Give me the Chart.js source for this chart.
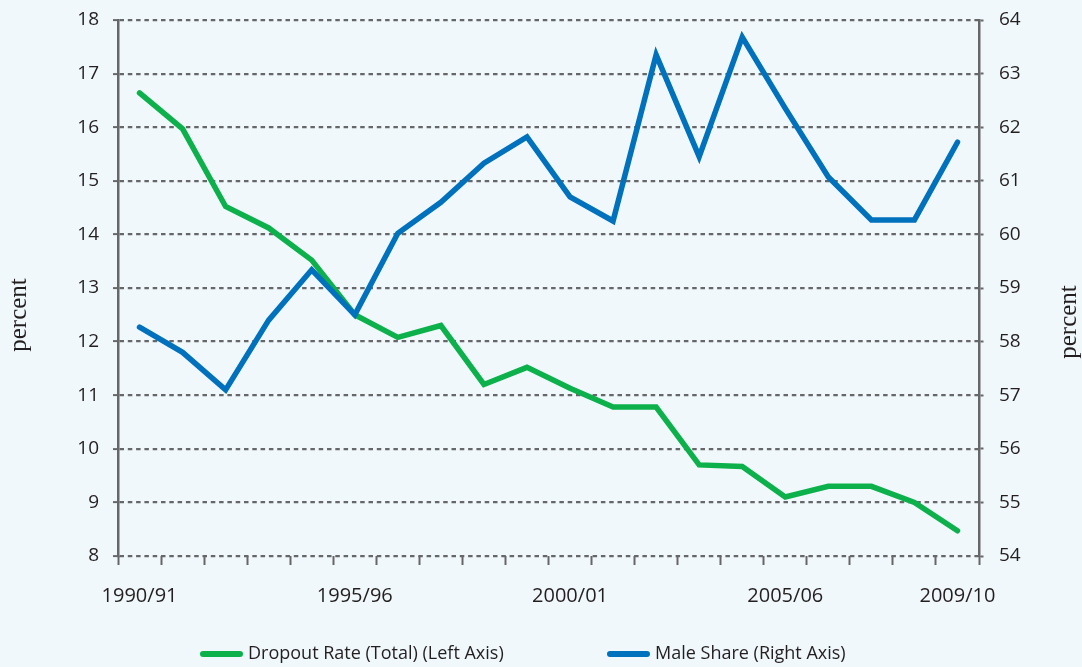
<!DOCTYPE html>
<html>
<head>
<meta charset="utf-8">
<script src="https://cdn.jsdelivr.net/npm/chart.js@4"></script>
<style>
  html, body { margin: 0; padding: 0; background: #f0f8fc; }
  #wrap { position: relative; width: 1082px; height: 667px; }
</style>
</head>
<body>
<div id="wrap"><canvas id="chart"></canvas></div>
<script>
// school years on the x axis
var years = ["1990/91", "1991/92", "1992/93", "1993/94", "1994/95", "1995/96", "1996/97",
    "1997/98", "1998/99", "1999/00", "2000/01", "2001/02", "2002/03", "2003/04",
    "2004/05", "2005/06", "2006/07", "2007/08", "2008/09", "2009/10"];
var shownYears = ["1990/91", "1995/96", "2000/01", "2005/06", "2009/10"];

// dropout rate, left axis
var dropoutRate = [16.64, 15.97, 14.52, 14.12, 13.52, 12.5, 12.08, 12.3, 11.2, 11.52,
    11.13, 10.78, 10.78, 9.7, 9.67, 9.1, 9.3, 9.3, 9.0, 8.47];
// male share, right axis
var maleShare = [58.27, 57.8, 57.1, 58.4, 59.34, 58.5, 60.02, 60.6, 61.33, 61.82,
    60.7, 60.25, 63.35, 61.45, 63.68, 62.35, 61.07, 60.27, 60.27, 61.72];

var leftTicks = [8, 9, 10, 11, 12, 13, 14, 15, 16, 17, 18];
var rightTicks = [54, 55, 56, 57, 58, 59, 60, 61, 62, 63, 64];
var axisTitle = "percent";

var GREEN = "#0cb14b";
var BLUE = "#0071bc";
var GREY = "#666769";
var TEXT = "#231f20";
var FONT = "'Open Sans', sans-serif";

// legend under the chart + the two "percent" axis titles
var extras = {
    id: "extras",
    afterDraw: function (chart) {
        var ctx = chart.ctx;
        var xs = [200, 607];
        ctx.save();
        ctx.font = "18px " + FONT;
        ctx.textBaseline = "middle";
        chart.data.datasets.forEach(function (ds, i) {
            var x = xs[i], y = 654;
            ctx.strokeStyle = ds.borderColor;
            ctx.lineWidth = 6;
            ctx.lineCap = "round";
            ctx.beginPath();
            ctx.moveTo(x + 3, y);
            ctx.lineTo(x + 40, y);
            ctx.stroke();
            ctx.fillStyle = TEXT;
            ctx.fillText(ds.label, x + 48, y);
        });

        ctx.font = "25px 'Liberation Serif', serif";
        ctx.textAlign = "center";
        [[19, 315], [1069, 322]].forEach(function (p) {
            ctx.save();
            ctx.translate(p[0], p[1]);
            ctx.rotate(-Math.PI / 2);
            ctx.fillText(axisTitle, 0, 0);
            ctx.restore();
        });
        ctx.restore();
    }
};

function fixWidth(w) {
    return function (s) {
        s.width = w;
        s.paddingTop = 0;
        s.paddingBottom = 0;
    };
}

new Chart(document.getElementById("chart"), {
    type: "line",
    data: {
        labels: years,
        datasets: [
            {
                label: "Dropout Rate (Total) (Left Axis)",
                data: dropoutRate,
                yAxisID: "yLeft",
                borderColor: GREEN,
                backgroundColor: GREEN,
                borderWidth: 5.5,
                borderJoinStyle: "miter",
                borderCapStyle: "round",
                pointRadius: 0,
                tension: 0,
                order: 1
            },
            {
                label: "Male Share (Right Axis)",
                data: maleShare,
                yAxisID: "yRight",
                borderColor: BLUE,
                backgroundColor: BLUE,
                borderWidth: 5.5,
                borderJoinStyle: "miter",
                borderCapStyle: "round",
                pointRadius: 0,
                tension: 0,
                order: 0
            }
        ]
    },
    options: {
        responsive: true,
        maintainAspectRatio: false,
        animation: false,
        layout: { padding: { top: 20, left: 0, right: 0, bottom: 0 } },
        plugins: {
            legend: { display: false },
            tooltip: { enabled: false }
        },
        scales: {
            x: {
                type: "category",
                offset: true,
                afterFit: function (s) { s.height = 111; },
                border: { display: false },
                grid: {
                    offset: true,
                    drawOnChartArea: false,
                    drawTicks: true,
                    tickLength: 9,
                    tickColor: GREY,
                    tickWidth: 2
                },
                ticks: {
                    autoSkip: false,
                    maxRotation: 0,
                    padding: 19,
                    color: TEXT,
                    font: { family: FONT, size: 20 },
                    callback: function (v, i) {
                        return shownYears.indexOf(years[i]) >= 0 ? years[i] : "";
                    }
                }
            },
            yLeft: {
                position: "left",
                min: 8,
                max: 18,
                afterFit: fixWidth(118),
                afterBuildTicks: function (s) {
                    s.ticks = leftTicks.map(function (v) { return { value: v }; });
                },
                border: { display: true, color: GREY, width: 2.5, dash: [4.5, 3.8] },
                grid: {
                    color: GREY,
                    lineWidth: 2.2,
                    tickLength: 5,
                    tickBorderDash: [4, 3],
                    tickColor: GREY,
                    tickWidth: 2
                },
                ticks: {
                    padding: 14,
                    color: TEXT,
                    font: { family: FONT, size: 19 }
                }
            },
            yRight: {
                position: "right",
                min: 54,
                max: 64,
                afterFit: fixWidth(103),
                afterBuildTicks: function (s) {
                    s.ticks = rightTicks.map(function (v) { return { value: v }; });
                },
                border: { display: true, color: GREY, width: 2.5 },
                grid: {
                    drawOnChartArea: false,
                    tickLength: 6,
                    tickBorderDash: [3, 3],
                    tickColor: GREY,
                    tickWidth: 2
                },
                ticks: {
                    padding: 14,
                    color: TEXT,
                    font: { family: FONT, size: 19 }
                }
            }
        }
    },
    plugins: [extras]
});
</script>
</body>
</html>
